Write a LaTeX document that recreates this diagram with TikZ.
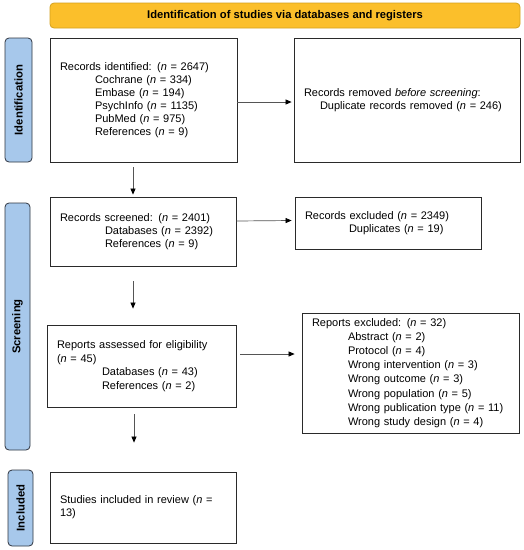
\documentclass[tikz,border=0pt]{standalone}
\usepackage{fontspec}
\setmainfont{Liberation Sans}
\usetikzlibrary{arrows.meta}
\definecolor{bannerfill}{HTML}{FBBF2B}
\definecolor{bannerdraw}{HTML}{D4A11E}
\definecolor{barfill}{HTML}{A7C8EB}
\definecolor{bardraw}{HTML}{2F3540}
\definecolor{boxdraw}{HTML}{2A2A2A}
\definecolor{arrline}{HTML}{555555}
\newcommand{\nn}{\textit{n}}
\tikzset{
  box/.style={draw=boxdraw, line width=0.8pt, inner xsep=10pt, inner ysep=0pt, align=left,
    font=\fontsize{11}{13}\selectfont},
  banner/.style={draw=bannerdraw, fill=bannerfill, line width=0.8pt, rounded corners=4pt,
    minimum width=470pt, minimum height=25pt, inner sep=0pt, font=\fontsize{11.2}{13}\selectfont\bfseries},
  bar/.style={draw=bardraw, fill=barfill, line width=0.8pt, rounded corners=4pt, inner sep=0pt},
  barlabel/.style={rotate=90, font=\fontsize{11.3}{13}\selectfont\bfseries},
  arr/.style={draw=arrline, line width=0.7pt, -{Triangle[length=6pt,width=5pt,color=black]}}
}
\begin{document}
\begin{tikzpicture}[x=1pt,y=-1pt]
\useasboundingbox (0,0) rectangle (524,550);
\fill[white] (0,0) rectangle (524,550);

\node[banner] (ban) at (285,15.5) {Identification of studies via databases and registers};

\node[bar, minimum width=27pt, minimum height=124pt] (bid) at (18.5,100) {};
\node[barlabel] (lid) at (bid.center) {Identification};
\node[bar, minimum width=25pt, minimum height=247pt] (bsc) at (17.5,326.5) {};
\node[barlabel] (lsc) at (bsc.center) {Screening};
\node[bar, minimum width=25pt, minimum height=76pt] (bin) at (20.5,508) {};
\node[barlabel] (lin) at (bin.center) {Included};

\node[box, text width=167pt, minimum height=124pt] (b1) at (143.5,100) {%
Records identified: (\nn{} = 2647)\\
\hspace*{35pt}Cochrane (\nn{} = 334)\\
\hspace*{35pt}Embase (\nn{} = 194)\\
\hspace*{35pt}PsychInfo (\nn{} = 1135)\\
\hspace*{35pt}PubMed (\nn{} = 975)\\
\hspace*{35pt}References (\nn{} = 9)};

\node[box, text width=206pt, minimum height=124pt] (b2) at (407,100) {%
Records removed \textit{before screening}:\\
\hspace*{16pt}Duplicate records removed (\nn{} = 246)};

\node[box, text width=166pt, minimum height=69pt] (b3) at (143,231.5) {%
Records screened: (\nn{} = 2401)\\
\hspace*{45pt}Databases (\nn{} = 2392)\\
\hspace*{45pt}References (\nn{} = 9)};

\node[box, text width=166pt, minimum height=52pt] (b4) at (388,223) {%
Records excluded (\nn{} = 2349)\\
\hspace*{44pt}Duplicates (\nn{} = 19)};

\node[box, text width=169pt, minimum height=82pt, font=\fontsize{11}{13.7}\selectfont] (b5) at (141.5,366) {%
Reports assessed for eligibility\\
(\nn{} = 45)\\
\hspace*{45pt}Databases (\nn{} = 43)\\
\hspace*{45pt}References (\nn{} = 2)};

\node[box, text width=197pt, minimum height=120pt, font=\fontsize{11}{14.2}\selectfont] (b6) at (410.5,373) {%
Reports excluded: (\nn{} = 32)\\
\hspace*{36pt}Abstract (\nn{} = 2)\\
\hspace*{36pt}Protocol (\nn{} = 4)\\
\hspace*{36pt}Wrong intervention (\nn{} = 3)\\
\hspace*{36pt}Wrong outcome (\nn{} = 3)\\
\hspace*{36pt}Wrong population (\nn{} = 5)\\
\hspace*{36pt}Wrong publication type (\nn{} = 11)\\
\hspace*{36pt}Wrong study design (\nn{} = 4)};

\node[box, text width=166pt, minimum height=71pt] (b7) at (143,507.5) {%
Studies included in review (\nn{} =\\
13)};

\draw[arr] ([yshift=-2pt]b1.east) -- ([yshift=-2pt,xshift=-2pt]b2.west);
\draw[arr] ([xshift=-10.5pt,yshift=-5pt]b1.south) -- ([xshift=-10pt,yshift=2pt]b3.north);
\draw[arr] ([yshift=10.5pt]b3.east) -- ([yshift=2.5pt,xshift=-3pt]b4.west);
\draw[arr] ([xshift=-10pt,yshift=-15pt]b3.south) -- ([xshift=-8.5pt,yshift=16pt]b5.north);
\draw[arr] ([yshift=12pt,xshift=4pt]b5.east) -- ([yshift=19pt,xshift=-7pt]b6.west);
\draw[arr] ([xshift=-7.5pt,yshift=-7pt]b5.south) -- ([xshift=-9pt,yshift=29pt]b7.north);
\end{tikzpicture}
\end{document}
